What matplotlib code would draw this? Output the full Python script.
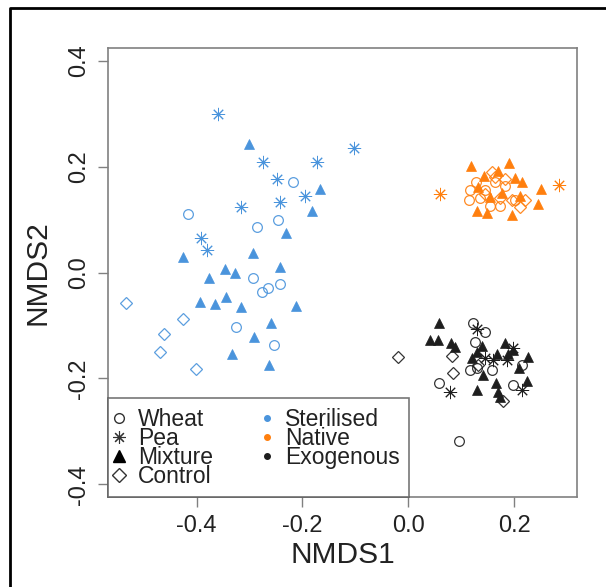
import matplotlib.pyplot as plt
from matplotlib.lines import Line2D

plt.rcParams['font.family'] = ['Liberation Sans', 'DejaVu Sans']
plt.rcParams['axes.unicode_minus'] = False

# --- Sterilised soil (blue) ---
ster_wheat_x = [-0.218, -0.416, -0.246, -0.286, -0.293, -0.276, -0.265, -0.242, -0.325, -0.254]
ster_wheat_y = [0.170, 0.111, 0.100, 0.085, -0.011, -0.036, -0.030, -0.021, -0.102, -0.136]
ster_pea_x = [-0.359, -0.275, -0.173, -0.103, -0.248, -0.195, -0.242, -0.316, -0.392, -0.380]
ster_pea_y = [0.300, 0.208, 0.208, 0.236, 0.177, 0.145, 0.134, 0.123, 0.066, 0.043]
ster_mix_x = [-0.301, -0.167, -0.182, -0.231, -0.425, -0.293, -0.346, -0.327, -0.242, -0.376,
              -0.393, -0.365, -0.344, -0.316, -0.212, -0.259, -0.292, -0.333, -0.263]
ster_mix_y = [0.242, 0.158, 0.117, 0.075, 0.030, 0.036, 0.006, 0.000, 0.011, -0.011,
              -0.055, -0.060, -0.047, -0.066, -0.064, -0.096, -0.121, -0.153, -0.174]
ster_ctrl_x = [-0.533, -0.425, -0.461, -0.469, -0.401]
ster_ctrl_y = [-0.058, -0.087, -0.117, -0.151, -0.183]

# --- Native soil (orange) ---
nat_wheat_x = [0.116, 0.127, 0.144, 0.163, 0.182, 0.154, 0.173, 0.135, 0.201, 0.114]
nat_wheat_y = [0.155, 0.170, 0.155, 0.170, 0.164, 0.126, 0.126, 0.140, 0.136, 0.136]
nat_pea_x = [0.059, 0.284]
nat_pea_y = [0.149, 0.166]
nat_mix_x = [0.118, 0.190, 0.214, 0.250, 0.244, 0.195, 0.129, 0.148, 0.176, 0.142,
             0.169, 0.201, 0.154, 0.210, 0.131]
nat_mix_y = [0.202, 0.206, 0.170, 0.157, 0.130, 0.108, 0.117, 0.113, 0.151, 0.183,
             0.192, 0.179, 0.142, 0.145, 0.162]
nat_ctrl_x = [0.182, 0.163, 0.220, 0.210, 0.195, 0.173, 0.158, 0.144]
nat_ctrl_y = [0.177, 0.181, 0.136, 0.123, 0.136, 0.140, 0.189, 0.149]

# --- Exogenous soil (black) ---
exo_wheat_x = [0.058, 0.122, 0.144, 0.125, 0.214, 0.116, 0.129, 0.158, 0.197, 0.095]
exo_wheat_y = [-0.208, -0.096, -0.113, -0.132, -0.175, -0.185, -0.181, -0.185, -0.213, -0.319]
exo_pea_x = [0.078, 0.129, 0.144, 0.160, 0.197, 0.186, 0.214]
exo_pea_y = [-0.226, -0.106, -0.162, -0.166, -0.142, -0.166, -0.221]
exo_mix_x = [0.058, 0.041, 0.056, 0.080, 0.088, 0.139, 0.129, 0.120, 0.167, 0.182,
             0.188, 0.197, 0.225, 0.209, 0.141, 0.165, 0.224, 0.129, 0.169, 0.173]
exo_mix_y = [-0.096, -0.128, -0.128, -0.134, -0.140, -0.138, -0.151, -0.162, -0.153, -0.134,
             -0.153, -0.147, -0.160, -0.181, -0.194, -0.208, -0.204, -0.221, -0.226, -0.236]
exo_ctrl_x = [-0.020, 0.082, 0.084, 0.178, 0.131]
exo_ctrl_y = [-0.160, -0.157, -0.189, -0.242, -0.175]

x_ticks = [-0.4, -0.2, 0.0, 0.2]
x_tick_labels = ['-0.4', '-0.2', '0.0', '0.2']
y_ticks = [-0.4, -0.2, 0.0, 0.2, 0.4]
y_tick_labels = ['-0.4', '-0.2', '0.0', '0.2', '0.4']

soil_labels = ['Sterilised', 'Native', 'Exogenous']
plant_labels = ['Wheat', 'Pea', 'Mixture', 'Control']

BLUE = '#4a94dc'
ORANGE = '#ff7f0e'
BLACK = '#1e1e1e'
STAR = (8, 2, 0)


def draw_group(ax, color, wheat, pea, mix, ctrl):
    ax.plot(wheat[0], wheat[1], ls='none', marker='o', ms=7, mfc='none', mec=color, mew=0.9, alpha=0.9)
    ax.plot(pea[0], pea[1], ls='none', marker=STAR, ms=9.5, mec=color, mew=0.7)
    ax.plot(mix[0], mix[1], ls='none', marker='^', ms=7.5, mfc=color, mec=color, mew=0.5)
    ax.plot(ctrl[0], ctrl[1], ls='none', marker='D', ms=6.5, mfc='none', mec=color, mew=0.9, alpha=0.9)


fig = plt.figure(figsize=(6.06, 5.87), dpi=100)
ax = fig.add_axes([108 / 606, 1 - 497 / 587, (577 - 108) / 606, (497 - 48) / 587])

draw_group(ax, BLUE, (ster_wheat_x, ster_wheat_y), (ster_pea_x, ster_pea_y),
           (ster_mix_x, ster_mix_y), (ster_ctrl_x, ster_ctrl_y))
draw_group(ax, ORANGE, (nat_wheat_x, nat_wheat_y), (nat_pea_x, nat_pea_y),
           (nat_mix_x, nat_mix_y), (nat_ctrl_x, nat_ctrl_y))
draw_group(ax, BLACK, (exo_wheat_x, exo_wheat_y), (exo_pea_x, exo_pea_y),
           (exo_mix_x, exo_mix_y), (exo_ctrl_x, exo_ctrl_y))

ax.set_xlim(-0.567, 0.318)
ax.set_ylim(-0.424, 0.424)
ax.set_xticks(x_ticks)
ax.set_xticklabels(x_tick_labels)
ax.set_yticks(y_ticks)
ax.set_yticklabels(y_tick_labels, rotation=90, va='center')
ax.tick_params(direction='out', length=7, width=1, color='#808080',
               labelsize=17, labelcolor='#222222', pad=6)
for s in ax.spines.values():
    s.set_color('#808080')
    s.set_linewidth(1.2)

ax.set_xlabel('NMDS1', fontsize=21.5, color='#222222', labelpad=3)
ax.set_ylabel('NMDS2', fontsize=21.5, color='#222222', labelpad=12)

handles = [
    Line2D([], [], ls='none', marker='o', ms=7, mfc='none', mec='#333333', mew=1),
    Line2D([], [], ls='none', marker=STAR, ms=9, mec='#333333', mew=0.8),
    Line2D([], [], ls='none', marker='^', ms=8, color='black'),
    Line2D([], [], ls='none', marker='D', ms=7, mfc='none', mec='#333333', mew=1),
    Line2D([], [], ls='none', marker='o', ms=4, color=BLUE),
    Line2D([], [], ls='none', marker='o', ms=4, color=ORANGE),
    Line2D([], [], ls='none', marker='o', ms=4, color=BLACK),
]
leg = ax.legend(handles, plant_labels + soil_labels, loc='lower left', ncol=2,
                fontsize=16.5, frameon=True, fancybox=False, borderaxespad=0,
                borderpad=0.4, labelspacing=-0.17, handlelength=0.2,
                handletextpad=0.7, columnspacing=2.25)
leg.get_frame().set_edgecolor('#555555')
leg.get_frame().set_linewidth(1.2)
for t in leg.get_texts():
    t.set_color('#222222')

# outer frame of the original figure (left and top edges visible)
fig.add_artist(Line2D([10 / 606, 10 / 606, 1.0], [0.0, 1 - 8 / 587, 1 - 8 / 587],
                      transform=fig.transFigure, color='black', lw=2))

fig.savefig('out.png', dpi=100)
